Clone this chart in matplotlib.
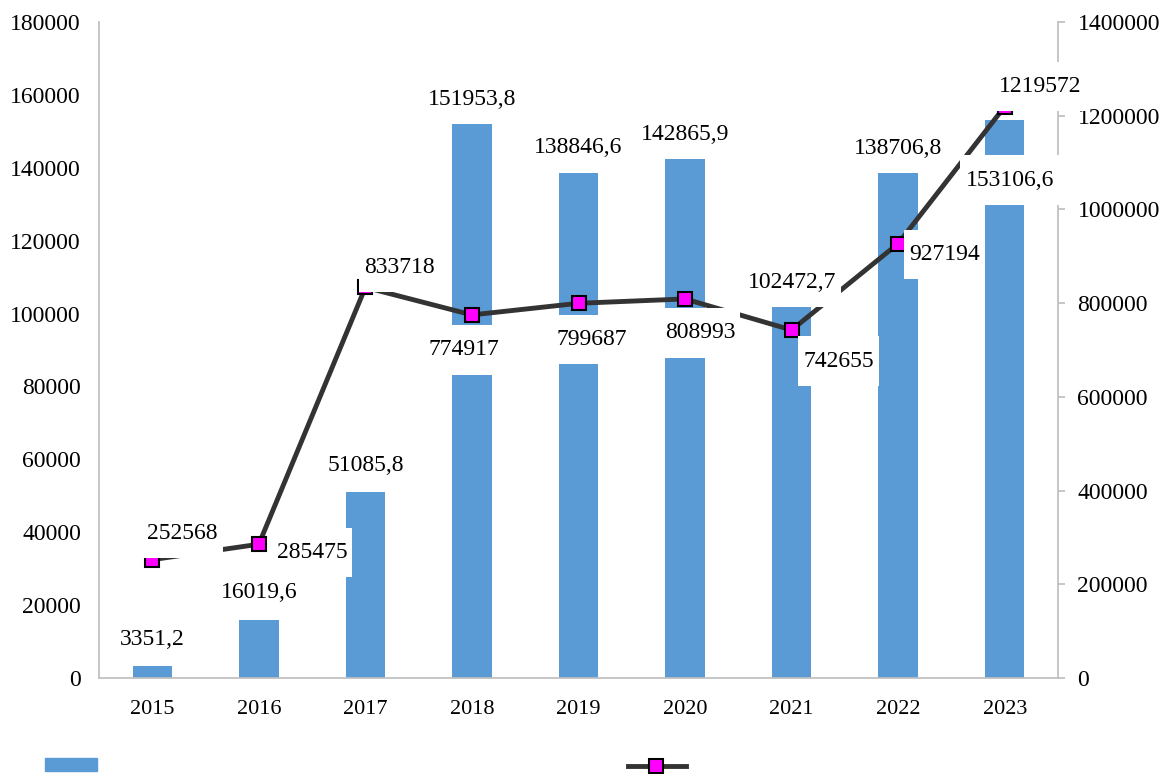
import matplotlib
matplotlib.use('Agg')
import matplotlib.pyplot as plt
from matplotlib.path import Path
from matplotlib.patches import Rectangle
from matplotlib.lines import Line2D

# ---- data ----
years = ['2015', '2016', '2017', '2018', '2019', '2020', '2021', '2022', '2023']
bar_values = [3351.2, 16019.6, 51085.8, 151953.8, 138846.6, 142865.9, 102472.7, 138706.8, 153106.6]
line_values = [252568, 285475, 833718, 774917, 799687, 808993, 742655, 927194, 1219572]
left_ticks = [0, 20000, 40000, 60000, 80000, 100000, 120000, 140000, 160000, 180000]
right_ticks = [0, 200000, 400000, 600000, 800000, 1000000, 1200000, 1400000]

# label placement offsets (pixels, dx, dy up)
bar_label_offsets = [(0, 26), (0, 27), (0, 26), (0, 25), (0, 24), (0, 23), (0, 22), (0, 24), (5, -60)]
line_label_offsets = [(30, 26), (53, -8), (34, 20), (-8, -35), (13, -36), (15, -34), (47, -31), (46, -11), (35, 20)]

BAR_COLOR = '#5B9BD5'
LINE_COLOR = '#333333'
SPINE_COLOR = '#BFBFBF'
FONT = 'Liberation Serif'

plt.rcParams['font.family'] = [FONT, 'DejaVu Serif']


def label_box(x0, y0, width, height, mutation_size):
    px = 0.22 * mutation_size
    py = 0.6 * mutation_size
    xa, ya = x0 - px, y0 - py
    xb, yb = x0 + width + px, y0 + height + py
    return Path([(xa, ya), (xb, ya), (xb, yb), (xa, yb), (xa, ya)], closed=True)


def fmt_dec(v):
    return f"{v:.1f}".replace('.', ',')


fig = plt.figure(figsize=(11.6, 7.74), dpi=100)
ax1 = fig.add_axes([99 / 1160, 1 - 678 / 774, (1058 - 99) / 1160, (678 - 22) / 774])
ax2 = ax1.twinx()

x = list(range(len(years)))
ax1.bar(x, bar_values, width=0.37, color=BAR_COLOR, zorder=2)
ax1.set_xlim(-0.5, len(years) - 0.5)
ax1.set_ylim(0, 180000)
ax1.set_yticks(left_ticks)
ax1.set_yticklabels([str(t) for t in left_ticks])
ax1.set_xticks(x)
ax1.set_xticklabels(years)
ax1.tick_params(axis='y', length=0, pad=13, labelsize=17)
ax1.tick_params(axis='x', length=0, pad=16, labelsize=16)

ax2.plot(x, line_values, color=LINE_COLOR, lw=3.5, marker='s', ms=10,
         mfc='#FF00FF', mec='black', mew=1.5, zorder=3)
ax2.set_ylim(0, 1400000)
ax2.set_yticks(right_ticks)
ax2.set_yticklabels([str(t) for t in right_ticks])
ax2.tick_params(axis='y', length=5, width=1.25, color=SPINE_COLOR, pad=9, labelsize=17, direction='out')

for ax in (ax1, ax2):
    ax.spines['top'].set_visible(False)
    for s in ('left', 'right', 'bottom'):
        ax.spines[s].set_color(SPINE_COLOR)
        ax.spines[s].set_linewidth(1.25)
ax2.spines['left'].set_visible(False)
ax2.spines['bottom'].set_visible(False)
ax1.spines['right'].set_visible(False)

box = dict(boxstyle=label_box, facecolor='white', edgecolor='none')

for xi, v, (dx, dy) in zip(x, bar_values, bar_label_offsets):
    ax2.annotate(fmt_dec(v), xy=(xi, v), xycoords=ax1.transData,
                 xytext=(dx * 0.72, dy * 0.72), textcoords='offset points',
                 ha='center', va='center', fontsize=17, bbox=box, zorder=6,
                 annotation_clip=False)

for xi, v, (dx, dy) in zip(x, line_values, line_label_offsets):
    ax2.annotate(str(v), xy=(xi, v), xycoords='data',
                 xytext=(dx * 0.72, dy * 0.72), textcoords='offset points',
                 ha='center', va='center', fontsize=17, bbox=box, zorder=6,
                 annotation_clip=False)

# legend (bottom, text cut off by figure edge)
fig.add_artist(Rectangle((45 / 1160, 1 - 771 / 774), 52 / 1160, 13 / 774,
                         transform=fig.transFigure, color=BAR_COLOR))
fig.add_artist(Line2D([628 / 1160, 686 / 1160], [1 - 766 / 774] * 2,
                      transform=fig.transFigure, color=LINE_COLOR, lw=3.5))
fig.add_artist(Line2D([656 / 1160], [1 - 766 / 774], transform=fig.transFigure,
                      marker='s', ms=10, mfc='#FF00FF', mec='black', mew=1.5, lw=0))

fig.savefig('out.png', dpi=100)
